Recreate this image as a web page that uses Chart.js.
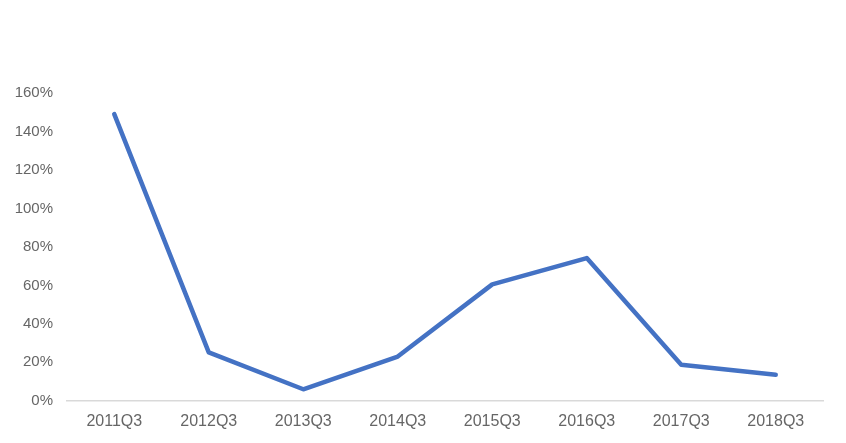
<!DOCTYPE html>
<html>
<head>
<meta charset="utf-8">
<script src="https://cdn.jsdelivr.net/npm/chart.js@4/dist/chart.umd.min.js"></script>
<style>
  html, body { margin: 0; padding: 0; background: #fff; }
  #wrap { width: 846px; height: 443px; }
</style>
</head>
<body>
<div id="wrap"><canvas id="growthChart"></canvas></div>
<script>
const quarters = ['2011Q3', '2012Q3', '2013Q3', '2014Q3', '2015Q3', '2016Q3', '2017Q3', '2018Q3']
const growth = [149, 25.2, 6, 23, 60.5, 74.2, 18.7, 13.5]
const yTicks = [0, 20, 40, 60, 80, 100, 120, 140, 160]

const ctx = document.getElementById('growthChart').getContext('2d')

new Chart(ctx, {
  type: 'line',
  data: {
    labels: quarters,
    datasets: [
      {
        data: growth,
        borderColor: '#4472C4',
        borderWidth: 4.5,
        pointRadius: 0,
        borderCapStyle: 'round',
        borderJoinStyle: 'round',
        tension: 0,
        fill: false
      }
    ]
  },
  options: {
    responsive: true,
    maintainAspectRatio: false,
    animation: false,
    layout: {
      padding: { top: 93, right: 23, bottom: 1, left: 0 }
    },
    plugins: {
      legend: { display: false },
      tooltip: { enabled: false }
    },
    scales: {
      x: {
        offset: true,
        grid: { display: false, drawTicks: false },
        border: { display: true, color: '#d9d9d9', width: 1.5 },
        ticks: {
          color: '#666666',
          font: { family: 'Liberation Sans', size: 16 },
          padding: 11,
          maxRotation: 0
        }
      },
      y: {
        min: 0,
        max: 160,
        afterBuildTicks: axis => {
          axis.ticks = yTicks.map(v => ({ value: v }))
        },
        afterFit: axis => {
          axis.width = 67
        },
        grid: { display: false, drawTicks: false },
        border: { display: false },
        ticks: {
          color: '#666666',
          font: { family: 'Liberation Sans', size: 15 },
          padding: 14,
          callback: v => v + '%'
        }
      }
    }
  }
})
</script>
</body>
</html>
